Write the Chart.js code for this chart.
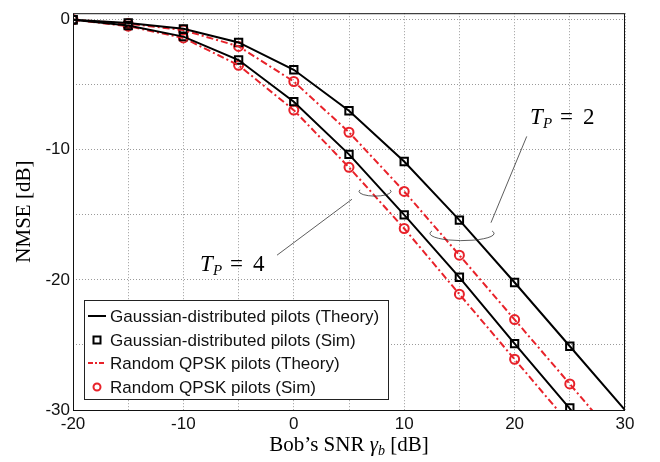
<!DOCTYPE html>
<html>
<head>
<meta charset="utf-8">
<script src="https://cdn.jsdelivr.net/npm/chart.js@4.4.0/dist/chart.umd.min.js"></script>
<style>
html, body { margin: 0; padding: 0; background: #fff; }
#wrap { width: 660px; height: 462px; }
</style>
</head>
<body>
<div id="wrap"><canvas id="myChart"></canvas></div>
<script>
// NMSE vs Bob's SNR, two pilot lengths, two pilot types

const snrTheory = [-20, -15, -10, -5, 0, 5, 10, 15, 20, 25, 30];
const snrSim = [-20, -15, -10, -5, 0, 5, 10, 15, 20, 25];

const gaussTp2 = [0, -0.25, -0.7, -1.75, -3.85, -7.0, -10.9, -15.4, -20.2, -25.1, -30.0];
const gaussTp4 = [0, -0.45, -1.3, -3.1, -6.3, -10.35, -15.0, -19.8, -24.9, -29.9, -35.0];
const qpskTp2 = [0, -0.3, -0.8, -2.05, -4.75, -8.65, -13.2, -18.1, -23.05, -28.0, -33.0];
const qpskTp4 = [0, -0.5, -1.4, -3.5, -6.95, -11.35, -16.05, -21.1, -26.1, -31.1, -36.1];

const gaussSimTp2 = [0, -0.25, -0.7, -1.75, -3.85, -7.0, -10.9, -15.4, -20.2, -25.1];
const gaussSimTp4 = [0, -0.45, -1.3, -3.1, -6.3, -10.35, -15.0, -19.8, -24.9, -29.85];
const qpskSimTp2 = [0, -0.3, -0.8, -2.05, -4.75, -8.65, -13.2, -18.1, -23.05, -28.0];
const qpskSimTp4 = [0, -0.5, -1.4, -3.5, -6.95, -11.35, -16.05, -21.1, -26.1, null];

const legendLabels = [
    'Gaussian-distributed pilots (Theory)',
    'Gaussian-distributed pilots (Sim)',
    'Random QPSK pilots (Theory)',
    'Random QPSK pilots (Sim)'
];

const black = '#000000';
const red = '#e8222a';
const dashDot = [7, 3, 2, 3];

function pts(xs, ys) {
    let out = [];
    for (let i = 0; i < xs.length; i++) {
        if (ys[i] !== null) out.push({x: xs[i], y: ys[i]});
    }
    return out;
}

function theoryLine(data, color, dash) {
    return {
        data: data, borderColor: color, borderWidth: 2, borderDash: dash,
        pointRadius: 0, showLine: true, fill: false, tension: 0
    };
}

function simPoints(data, color, style, radius) {
    return {
        data: data, borderColor: color, backgroundColor: 'rgba(0,0,0,0)',
        borderWidth: 2, pointStyle: style, pointRadius: radius,
        pointHoverRadius: radius, showLine: false
    };
}

const serif = '"Liberation Serif", "DejaVu Serif", serif';
const sans = '"Liberation Sans", Arial, sans-serif';

// "T_P = n" labels, leader lines and ellipses, in data units
const notes = [
    {text: '2', tx: 21.4, ty: -7.99, x1: 21.1, y1: -8.97, x2: 17.86, y2: -15.6, ex: 15.24, ey: -16.43, erx: 2.9, ery: 0.55},
    {text: '4', tx: -8.5, ty: -19.3, x1: -1.52, y1: -18.1, x2: 5.27, y2: -13.8, ex: 7.36, ey: -13.2, erx: 1.45, ery: 0.36}
];

const extras = {
    id: 'extras',
    afterDraw(chart) {
        const ctx = chart.ctx;
        const xs = chart.scales.x, ys = chart.scales.y;
        const a = chart.chartArea;
        ctx.save();

        // box round the plot
        ctx.strokeStyle = '#111';
        ctx.lineWidth = 1;
        ctx.strokeRect(a.left + 0.5, a.top + 0.5, a.right - a.left - 1, a.bottom - a.top);

        // annotations
        ctx.fillStyle = '#000';
        ctx.strokeStyle = '#333';
        ctx.lineWidth = 0.8;
        for (let n of notes) {
            ctx.beginPath();
            ctx.moveTo(xs.getPixelForValue(n.x1), ys.getPixelForValue(n.y1));
            ctx.lineTo(xs.getPixelForValue(n.x2), ys.getPixelForValue(n.y2));
            ctx.stroke();
            const cx = xs.getPixelForValue(n.ex), cy = ys.getPixelForValue(n.ey);
            const rx = Math.abs(xs.getPixelForValue(n.ex + n.erx) - cx);
            const ry = Math.abs(ys.getPixelForValue(n.ey + n.ery) - cy);
            ctx.beginPath();
            ctx.ellipse(cx, cy, rx, ry, 0, -0.35, Math.PI + 0.35);
            ctx.stroke();

            const px = xs.getPixelForValue(n.tx), py = ys.getPixelForValue(n.ty);
            ctx.textAlign = 'left';
            ctx.textBaseline = 'alphabetic';
            ctx.font = 'italic 23px ' + serif;
            ctx.fillText('T', px, py);
            ctx.font = 'italic 15px ' + serif;
            ctx.fillText('P', px + 13, py + 4);
            ctx.font = '23px ' + serif;
            ctx.fillText('=', px + 30, py);
            ctx.fillText(n.text, px + 53, py);
        }

        // x axis title with subscript
        const fs = 21;
        const t1 = 'Bob\u2019s SNR ', t2 = '\u03b3', t3 = ' [dB]';
        ctx.font = fs + 'px ' + serif;
        const w1 = ctx.measureText(t1).width;
        ctx.font = 'italic ' + fs + 'px ' + serif;
        const w2 = ctx.measureText(t2).width;
        ctx.font = 'italic 14px ' + serif;
        const wb = ctx.measureText('b').width;
        ctx.font = fs + 'px ' + serif;
        const w3 = ctx.measureText(t3).width;
        let x0 = (a.left + a.right) / 2 - (w1 + w2 + wb + w3) / 2;
        const by = 451;
        ctx.font = fs + 'px ' + serif;
        ctx.fillText(t1, x0, by);
        ctx.font = 'italic ' + fs + 'px ' + serif;
        ctx.fillText(t2, x0 + w1, by);
        ctx.font = 'italic 14px ' + serif;
        ctx.fillText('b', x0 + w1 + w2, by + 4);
        ctx.font = fs + 'px ' + serif;
        ctx.fillText(t3, x0 + w1 + w2 + wb, by);

        // legend
        const lx = 84, ly = 300, lw = 304, lh = 99;
        ctx.fillStyle = '#fff';
        ctx.fillRect(lx, ly, lw, lh);
        ctx.strokeStyle = '#222';
        ctx.lineWidth = 1;
        ctx.strokeRect(lx + 0.5, ly + 0.5, lw, lh);
        const rows = [316, 340, 363, 387];
        for (let i = 0; i < 4; i++) {
            const y = rows[i];
            const color = i < 2 ? black : red;
            ctx.strokeStyle = color;
            ctx.lineWidth = 2;
            if (i === 0 || i === 2) {
                ctx.setLineDash(i === 2 ? [5, 2, 2, 2] : []);
                ctx.beginPath();
                ctx.moveTo(88, y);
                ctx.lineTo(106, y);
                ctx.stroke();
                ctx.setLineDash([]);
            } else if (i === 1) {
                ctx.strokeRect(93.5, y - 3.5, 7, 7);
            } else {
                ctx.beginPath();
                ctx.arc(97, y, 3.5, 0, Math.PI * 2);
                ctx.stroke();
            }
            ctx.fillStyle = '#111';
            ctx.font = '17px ' + sans;
            ctx.textBaseline = 'middle';
            ctx.fillText(legendLabels[i], 110, y + 1);
        }
        ctx.restore();
    }
};

const gridDash = [1, 2];

let ctx = document.getElementById('myChart').getContext('2d');
let myChart = new Chart(ctx, {
    type: 'scatter',
    data: {
        datasets: [
            theoryLine(pts(snrTheory, gaussTp2), black, []),
            theoryLine(pts(snrTheory, gaussTp4), black, []),
            theoryLine(pts(snrTheory, qpskTp2), red, dashDot),
            theoryLine(pts(snrTheory, qpskTp4), red, dashDot),
            simPoints(pts(snrSim, gaussSimTp2), black, 'rect', 5.2),
            simPoints(pts(snrSim, gaussSimTp4), black, 'rect', 5.2),
            simPoints(pts(snrSim, qpskSimTp2), red, 'circle', 4.5),
            simPoints(pts(snrSim, qpskSimTp4), red, 'circle', 4.5)
        ]
    },
    options: {
        responsive: true,
        maintainAspectRatio: false,
        animation: false,
        layout: {padding: {top: 5, right: 35, left: 0, bottom: 0}},
        plugins: {legend: {display: false}, tooltip: {enabled: false}},
        scales: {
            x: {
                type: 'linear', min: -20, max: 30,
                afterFit: s => { s.height = 52; },
                afterBuildTicks: s => { s.ticks = [-20, -15, -10, -5, 0, 5, 10, 15, 20, 25, 30].map(v => ({value: v})); },
                grid: {color: '#9a9a9a', lineWidth: 1, drawTicks: false},
                border: {display: false, dash: gridDash},
                ticks: {
                    padding: 4, color: '#111', font: {family: sans, size: 17},
                    maxRotation: 0, autoSkip: false,
                    callback: v => (v % 10 === 0 ? String(v) : '')
                }
            },
            y: {
                type: 'linear', min: -30, max: 0.5,
                afterFit: s => { s.width = 73; },
                afterBuildTicks: s => { s.ticks = [-30, -25, -20, -15, -10, -5, 0].map(v => ({value: v})); },
                grid: {color: '#9a9a9a', lineWidth: 1, drawTicks: false},
                border: {display: false, dash: gridDash},
                ticks: {
                    padding: 3, color: '#111', font: {family: sans, size: 17},
                    autoSkip: false,
                    callback: v => (v % 10 === 0 ? String(v) : '')
                },
                title: {
                    display: true, text: 'NMSE [dB]', color: '#000',
                    font: {family: serif, size: 21}, padding: {top: 12, bottom: 0}
                }
            }
        }
    },
    plugins: [extras]
});
</script>
</body>
</html>
